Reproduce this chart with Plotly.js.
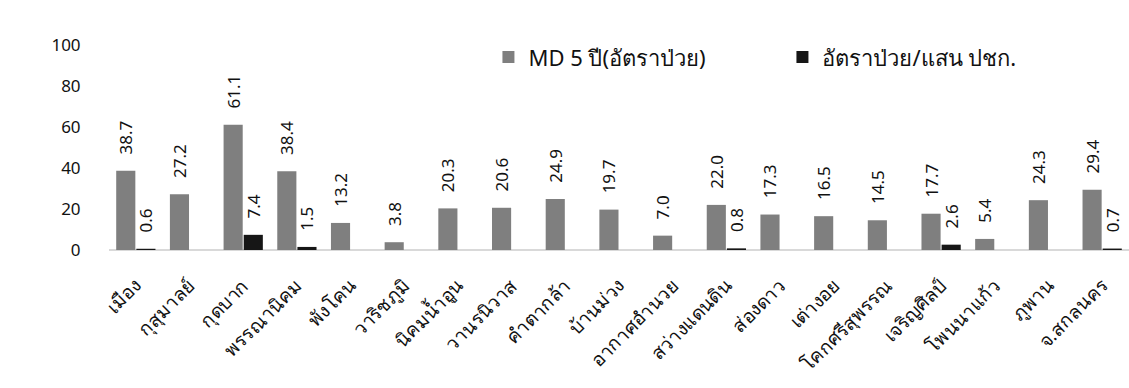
<!DOCTYPE html>
<html>
<head>
<meta charset="utf-8">
<script src="https://cdn.plot.ly/plotly-3.0.1.min.js"></script>
<style>
  html, body { margin: 0; padding: 0; background: #fff; }
  #chart { width: 1129px; height: 388px; }
</style>
</head>
<body>
<div id="chart"></div>
<script>
// Districts of Sakon Nakhon province
const districts = [
  'เมือง', 'กุสุมาลย์', 'กุดบาก', 'พรรณานิคม', 'พังโคน', 'วาริชภูมิ',
  'นิคมน้ำอูน', 'วานรนิวาส', 'คำตากล้า', 'บ้านม่วง', 'อากาศอำนวย',
  'สว่างแดนดิน', 'ส่องดาว', 'เต่างอย', 'โคกศรีสุพรรณ', 'เจริญศิลป์',
  'โพนนาแก้ว', 'ภูพาน', 'จ.สกลนคร'
];

// 5-year median rate
const md5Year = [38.7, 27.2, 61.1, 38.4, 13.2, 3.8, 20.3, 20.6, 24.9, 19.7,
                 7.0, 22.0, 17.3, 16.5, 14.5, 17.7, 5.4, 24.3, 29.4];

// Current rate per 100,000 population
const ratePer100k = [0.6, null, 7.4, 1.5, null, null, null, null, null, null,
                     null, 0.8, null, null, null, 2.6, null, null, 0.7];

const seriesNames = ['MD 5 ปี(อัตราป่วย)', 'อัตราป่วย/แสน ปชก.'];
const yTicks = [0, 20, 40, 60, 80, 100];

const fontFamily = 'Noto Sans, Tahoma, sans-serif';
// Value labels are rotated; the leading non-breaking spaces lift them off the bar tops
const PAD = '\u00a0\u00a0\u00a0';
const labelText = arr => arr.map(v => (v === null ? '' : PAD + v.toFixed(1)));

const traces = [
  {
    type: 'bar',
    name: seriesNames[0],
    x: districts,
    y: md5Year,
    text: labelText(md5Year),
    textposition: 'outside',
    textangle: -90,
    constraintext: 'none',
    textfont: { family: fontFamily, size: 17, color: '#111' },
    cliponaxis: false,
    marker: { color: '#7f7f7f' },
    hoverinfo: 'x+y'
  },
  {
    type: 'bar',
    name: seriesNames[1],
    x: districts,
    y: ratePer100k,
    text: labelText(ratePer100k),
    textposition: 'outside',
    textangle: -90,
    constraintext: 'none',
    textfont: { family: fontFamily, size: 17, color: '#111' },
    cliponaxis: false,
    marker: { color: '#161616' },
    hoverinfo: 'x+y'
  }
];

const layout = {
  width: 1129,
  height: 388,
  margin: { l: 109, r: 0, t: 45, b: 138, autoexpand: false },
  paper_bgcolor: '#ffffff',
  plot_bgcolor: '#ffffff',
  font: { family: fontFamily, size: 16, color: '#111' },
  barmode: 'group',
  bargap: 0.25,
  bargroupgap: 0.05,
  showlegend: true,
  legend: {
    orientation: 'h',
    x: 0.372,
    xanchor: 'left',
    y: 0.94,
    yanchor: 'middle',
    bgcolor: 'rgba(0,0,0,0)',
    font: { family: fontFamily, size: 22, color: '#111' },
    entrywidth: 249,
    entrywidthmode: 'pixels'
  },
  xaxis: {
    type: 'category',
    automargin: false,
    tickangle: -45,
    tickfont: { family: fontFamily, size: 19, color: '#111' },
    showline: false,
    showgrid: false,
    ticks: 'outside',
    ticklen: 16,
    tickcolor: 'rgba(0,0,0,0)'
  },
  yaxis: {
    automargin: false,
    range: [0, 100],
    tickvals: yTicks,
    ticktext: yTicks.map(String),
    tickfont: { family: fontFamily, size: 17, color: '#111' },
    showgrid: false,
    showline: false,
    zeroline: true,
    zerolinecolor: '#d9d9d9',
    zerolinewidth: 1.5,
    ticks: 'outside',
    ticklen: 24,
    tickcolor: 'rgba(0,0,0,0)'
  }
};

Plotly.newPlot('chart', traces, layout, { displayModeBar: false, staticPlot: true });
</script>
</body>
</html>
